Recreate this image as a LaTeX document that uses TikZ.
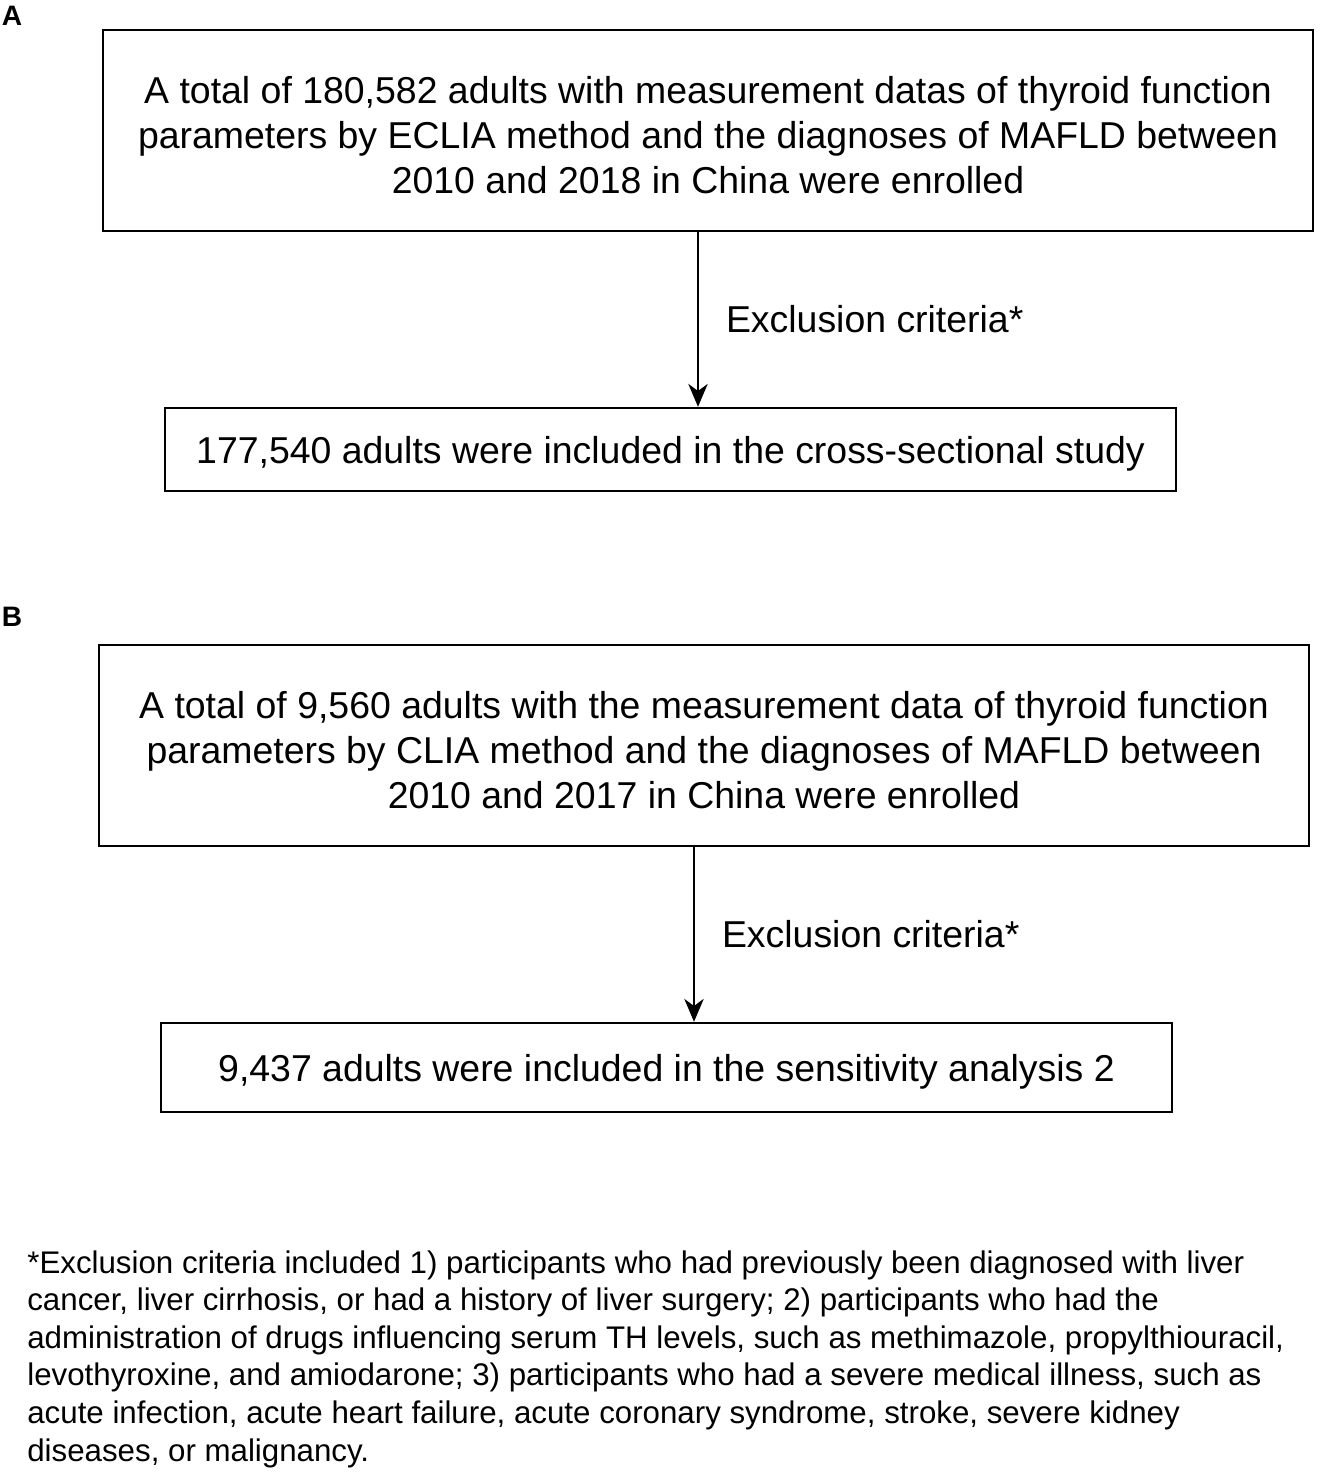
\documentclass[tikz,border=0pt]{standalone}
\usepackage{fontspec}
\setmainfont{Liberation Sans}
\usetikzlibrary{arrows.meta}

\tikzset{
  box/.style={draw, line width=1.4pt, align=center, inner sep=0pt,
    text height=20.5pt, font=\fontsize{21.3}{25.6}\selectfont},
  bigbox/.style={box, text height=71.5pt,
    minimum width=24.2cm, minimum height=4.02cm},
  arr/.style={line width=1.2pt, -{Stealth[length=13pt, width=11pt, inset=4pt]}},
  crit/.style={right, xshift=12pt, font=\fontsize{21.3}{25}\selectfont},
  note/.style={anchor=north west, align=left, inner sep=0pt,
    font=\fontsize{17.8}{21.4}\selectfont},
  panel/.style={font=\fontsize{16}{18}\selectfont\bfseries}
}

\begin{document}
\begin{tikzpicture}[x=0.02cm, y=-0.02cm]
    \useasboundingbox (0,0) rectangle (1322,1473);

    %panel A
    \node [panel] (labA) at (12,16) {A};
    \node [bigbox] (a1) at (708,130.5)
        {A total of 180,582 adults with measurement datas of thyroid function\\
         parameters by ECLIA method and the diagnoses of MAFLD between\\
         2010 and 2018 in China were enrolled};
    \node [box, minimum width=20.22cm, minimum height=1.66cm] (a2) at (670.5,449.5)
        {177,540 adults were included in the cross-sectional study};
    \coordinate (colA) at (698,0);
    \draw [arr] (a1.south -| colA) -- (a2.north -| colA)
        node [crit, midway] (exA) {Exclusion criteria*};

    %panel B
    \node [panel] (labB) at (12,617) {B};
    \node [bigbox] (b1) at (704,745.5)
        {A total of 9,560 adults with the measurement data of thyroid function\\
         parameters by CLIA method and the diagnoses of MAFLD between\\
         2010 and 2017 in China were enrolled};
    \node [box, minimum width=20.22cm, minimum height=1.78cm] (b2) at (666.5,1067.5)
        {9,437 adults were included in the sensitivity analysis 2};
    \coordinate (colB) at (694,0);
    \draw [arr] (b1.south -| colB) -- (b2.north -| colB)
        node [crit, midway] (exB) {Exclusion criteria*};

    %footnote
    \node [note] (fn) at (27,1250)
        {*Exclusion criteria included 1) participants who had previously been diagnosed with liver\\
         cancer, liver cirrhosis, or had a history of liver surgery; 2) participants who had the\\
         administration of drugs influencing serum TH levels, such as methimazole, propylthiouracil,\\
         levothyroxine, and amiodarone; 3) participants who had a severe medical illness, such as\\
         acute infection, acute heart failure, acute coronary syndrome, stroke, severe kidney\\
         diseases, or malignancy.};
\end{tikzpicture}
\end{document}
